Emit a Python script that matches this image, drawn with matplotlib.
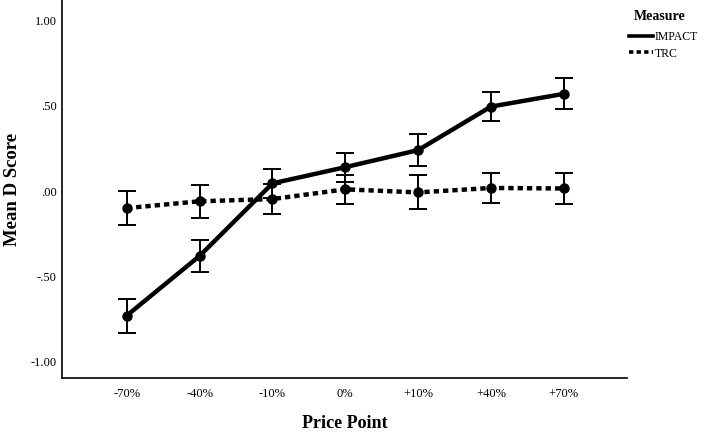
import matplotlib
matplotlib.use("Agg")
import matplotlib.pyplot as plt
import numpy as np

plt.rcParams["font.family"] = ["Liberation Serif", "DejaVu Serif"]

# Data
price_points = ["-70%", "-40%", "-10%", "0%", "+10%", "+40%", "+70%"]
impact_mean = [-0.73, -0.38, 0.045, 0.14, 0.24, 0.495, 0.57]
impact_err = [0.10, 0.093, 0.085, 0.085, 0.095, 0.087, 0.09]
trc_mean = [-0.10, -0.06, -0.047, 0.01, -0.008, 0.018, 0.015]
trc_err = [0.10, 0.096, 0.09, 0.085, 0.10, 0.088, 0.09]

y_ticks = [1.0, 0.5, 0.0, -0.5, -1.0]
y_tick_labels = ["1.00", ".50", ".00", "-.50", "-1.00"]

fig = plt.figure(figsize=(7.1, 4.37), dpi=100)
ax = fig.add_axes([0.0873, 0.135, 0.796, 0.865])

x = np.arange(len(price_points))

ax.errorbar(x, impact_mean, yerr=impact_err, color="black", lw=3.2,
            ls="-", marker="o", ms=6.5, capsize=6.5, elinewidth=1.4,
            capthick=1.4, label="IMPACT", zorder=3)
ax.errorbar(x, trc_mean, yerr=trc_err, color="black", lw=3.2,
            ls=(0, (1.2, 0.9)), marker="o", ms=6.5, capsize=6.5,
            elinewidth=1.4, capthick=1.4, label="TRC", zorder=3)

ax.set_xlim(-0.89, 6.87)
ax.set_ylim(-1.096, 1.12)
ax.set_xticks(x)
ax.set_xticklabels(price_points, fontsize=9)
ax.set_yticks(y_ticks)
ax.set_yticklabels(y_tick_labels, fontsize=9)
ax.tick_params(axis="both", length=0)
ax.tick_params(axis="x", pad=7)
ax.tick_params(axis="y", pad=4)

ax.spines[["top", "right"]].set_visible(False)
ax.spines[["left", "bottom"]].set_linewidth(1.2)

ax.set_xlabel("Price Point", fontsize=13, fontweight="bold", va="top")
ax.xaxis.set_label_coords(0.5, -0.098)
ax.set_ylabel("Mean D Score", fontsize=13.5, fontweight="bold")
ax.yaxis.set_label_coords(-0.073, 0.5)

# Legend
fig.text(0.929, 0.962, "Measure", fontsize=10, fontweight="bold", ha="center", va="center")
handles, labels = ax.get_legend_handles_labels()
handles = [h[0] for h in handles]
leg = fig.legend(handles, labels, loc="upper left", bbox_to_anchor=(0.886, 0.929),
                 frameon=False, fontsize=8.5, handlelength=2.0, handletextpad=0.15,
                 labelspacing=0.38, borderpad=0.0, borderaxespad=0.0)
for line in leg.get_lines():
    line.set_marker("")
    line.set_linewidth(2.6)

fig.savefig("out.png", dpi=100, facecolor="white")
